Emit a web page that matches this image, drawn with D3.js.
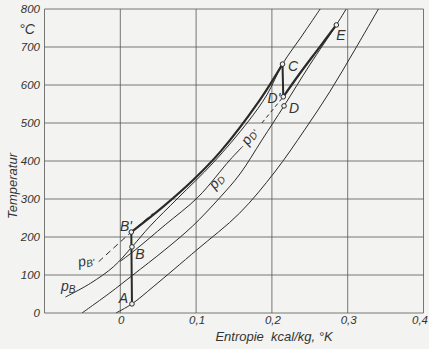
<!DOCTYPE html>
<html>
<head>
<meta charset="utf-8">
<script src="https://cdn.jsdelivr.net/npm/d3@7"></script>
<style>
  body { margin: 0; background: #f3f3f1; }
  svg text { font-family: "Liberation Sans", "DejaVu Sans", sans-serif; font-style: italic; fill: #333; }
</style>
</head>
<body>
<svg id="chart" width="429" height="349"></svg>
<script>
// axis ticks
const sTicks = [0, 0.1, 0.2, 0.3, 0.4];
const sTickLabels = ["0", "0,1", "0,2", "0,3", "0,4"];
const tTicks = [0, 100, 200, 300, 400, 500, 600, 700, 800];

// isobars, [entropy kcal/kg K, temperature °C]
const isoPB = [[-0.0724, 42], [-0.0395, 78], [-0.0088, 122], [0.0154, 174], [0.0395, 229],
  [0.0763, 303], [0.1224, 395], [0.1684, 503], [0.1934, 574], [0.214, 655], [0.2395, 729], [0.2654, 805]];
const isoPBdash = [[-0.0286, 135], [0.0145, 213], [0.0434, 262]];
const heatBC = [[0.0145, 213], [0.0566, 280], [0.0961, 350], [0.1318, 424], [0.1842, 561], [0.214, 655]];
const isoPDprime = [[0.0, 136], [0.0197, 166], [0.0592, 232], [0.1026, 305], [0.1447, 403], [0.1618, 439]];
const isoPDprimeDash = [[0.1868, 500], [0.215, 569]];
const heatDE = [[0.215, 569], [0.2363, 629], [0.26, 692], [0.285, 758]];
const isoPD = [[-0.0505, 0], [-0.0137, 53], [0.0166, 100], [0.0587, 166], [0.0955, 229], [0.131, 303],
  [0.1579, 366], [0.1868, 455], [0.216, 545], [0.25, 653], [0.285, 758], [0.301, 810]];
const isoA = [[-0.0058, 0], [0.0154, 24], [0.0434, 69], [0.1009, 166], [0.1575, 263], [0.2037, 371],
  [0.2432, 482], [0.2763, 582], [0.3092, 692], [0.342, 805]];

// state points
const pointNames = ["A", "B", "B'", "C", "D'", "D", "E"];
const pointS = [0.0154, 0.0154, 0.0145, 0.214, 0.215, 0.216, 0.285];
const pointT = [24, 174, 213, 655, 569, 545, 758];

const svg = d3.select("#chart");
const x = d3.scaleLinear().domain([-0.1, 0.4]).range([44.5, 423.5]);
const y = d3.scaleLinear().domain([0, 800]).range([313, 9]);

// grid
const grid = svg.append("g").attr("stroke", "#555").attr("stroke-width", 0.8);
grid.selectAll("line.h").data(tTicks).enter().append("line")
  .attr("x1", x(-0.1)).attr("x2", x(0.4)).attr("y1", d => y(d)).attr("y2", d => y(d));
grid.selectAll("line.v").data([-0.1].concat(sTicks)).enter().append("line")
  .attr("x1", d => x(d)).attr("x2", d => x(d)).attr("y1", y(0)).attr("y2", y(800));

// tick labels
svg.append("g").selectAll("text").data(tTicks).enter().append("text")
  .attr("x", 40).attr("y", d => y(d) + 4).attr("text-anchor", "end")
  .attr("font-size", 11.5).text(d => d);
svg.append("g").selectAll("text").data(sTicks).enter().append("text")
  .attr("x", (d, i) => i === sTicks.length - 1 ? 428 : x(d) + 1)
  .attr("y", 324).attr("text-anchor", (d, i) => i === sTicks.length - 1 ? "end" : "middle")
  .attr("font-size", 11.5).text((d, i) => sTickLabels[i]);

svg.append("text").attr("x", 27).attr("y", 34).attr("text-anchor", "middle")
  .attr("font-size", 14).text("°C");
svg.append("text").attr("transform", "translate(17,186) rotate(-90)")
  .attr("text-anchor", "middle").attr("font-size", 13).text("Temperatur");
svg.append("text").attr("x", 274).attr("y", 341).attr("text-anchor", "middle")
  .attr("font-size", 13).style("white-space", "pre").text("Entropie  kcal/kg, °K");

// curves
svg.append("clipPath").attr("id", "plot").append("rect")
  .attr("x", x(-0.1)).attr("y", y(800)).attr("width", x(0.4) - x(-0.1)).attr("height", y(0) - y(800));
const line = d3.line().x(d => x(d[0])).y(d => y(d[1])).curve(d3.curveCatmullRom.alpha(0.5));
const curves = svg.append("g").attr("clip-path", "url(#plot)").attr("fill", "none").attr("stroke", "#2a2a2a");

function draw(data, width, dash) {
  curves.append("path").datum(data).attr("d", line)
    .attr("stroke-width", width).attr("stroke-dasharray", dash || null);
}
draw(isoPB, 1);
draw(isoPBdash, 1, "6,4");
draw(heatBC, 2.2);
draw(isoPDprime, 1);
draw(isoPDprimeDash, 1, "4,3");
draw(heatDE, 2.2);
draw(isoPD, 1);
draw(isoA, 1);

// vertical process lines
draw([[pointS[0], pointT[0]], [pointS[2], pointT[2]]], 2);
draw([[pointS[3], pointT[3]], [pointS[4], pointT[4]]], 2);

// points
svg.append("g").selectAll("circle").data(pointNames).enter().append("circle")
  .attr("cx", (d, i) => x(pointS[i])).attr("cy", (d, i) => y(pointT[i])).attr("r", 2.3)
  .attr("fill", "#f3f3f1").attr("stroke", "#2a2a2a").attr("stroke-width", 1);

const labelPos = [[123.5, 303], [140, 259], [126, 231], [293, 71], [274, 103], [294, 113], [341, 40]];
svg.append("g").selectAll("text").data(pointNames).enter().append("text")
  .attr("x", (d, i) => labelPos[i][0]).attr("y", (d, i) => labelPos[i][1])
  .attr("text-anchor", "middle").attr("font-size", 14).text(d => d);

// isobar names
function pLabel(px, py, sub, angle) {
  const t = svg.append("text").attr("font-size", 14)
    .attr("transform", `translate(${px},${py}) rotate(${angle})`);
  t.append("tspan").text("p");
  t.append("tspan").attr("font-size", 10).attr("dy", 2).text(sub);
}
pLabel(61, 291, "B", 0);
pLabel(79, 267, "B'", -12);
pLabel(215, 190, "D", -50);
pLabel(248, 146, "D'", -55);
</script>
</body>
</html>
